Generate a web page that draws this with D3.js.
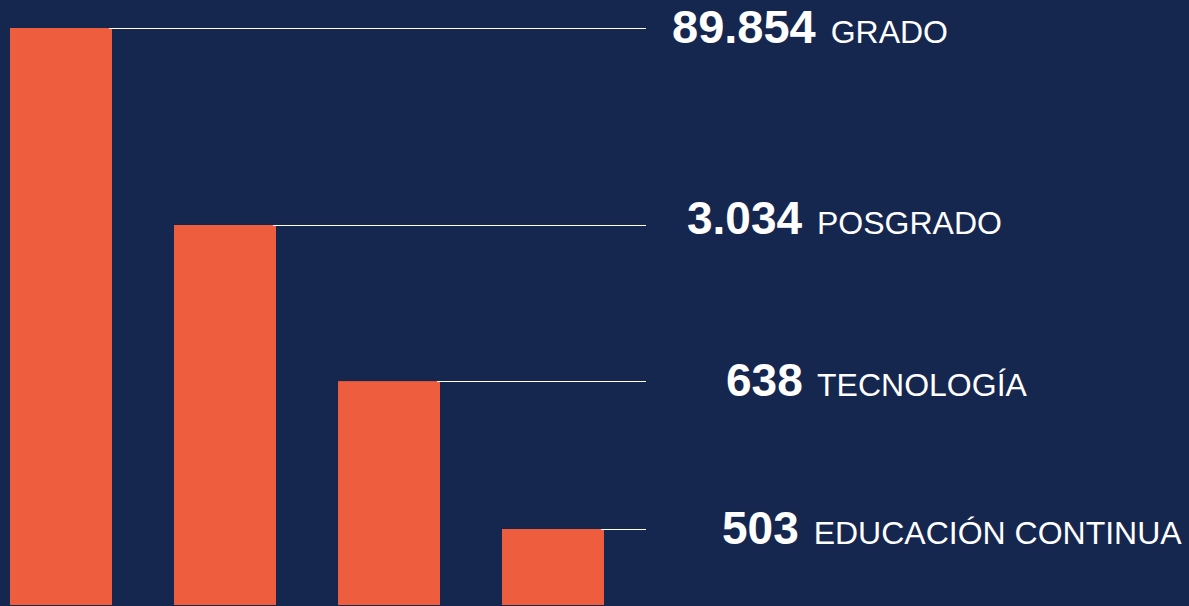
<!DOCTYPE html>
<html lang="es">
<head>
<meta charset="utf-8">
<title>Estudiantes por nivel</title>
<script src="https://cdn.jsdelivr.net/npm/d3@7"></script>
<style>
  html, body { margin: 0; padding: 0; background: #15264f; overflow: hidden; }
  svg { display: block; }
  text { font-family: "Liberation Sans", Arial, Helvetica, sans-serif; fill: #ffffff; }
</style>
</head>
<body>
<svg id="chart"></svg>
<script>
// Students per academic level
const categories = ["GRADO", "POSGRADO", "TECNOLOGÍA", "EDUCACIÓN CONTINUA"];
const values = [89854, 3034, 638, 503];
const valueLabels = ["89.854", "3.034", "638", "503"];

// Layout
const width = 1189, height = 606;
const plotTop = 28, plotBottom = 605;
const leaderEnd = 646;
// horizontal start of each value label, and baseline offset from its leader
const labelStart = [672, 687, 726, 722];
const labelBaseline = [15, 9, 15, 15];

const svg = d3.select("#chart").attr("width", width).attr("height", height);

svg.append("rect")
  .attr("width", width).attr("height", height)
  .attr("fill", "#15264f");

const x = d3.scaleBand()
  .domain(categories)
  .range([10, 604])
  .paddingInner(0.378)
  .paddingOuter(0);

// Compressed (piecewise) height scale so the small levels remain visible
const sorted = values.slice().sort(d3.ascending);
const h = plotBottom - plotTop;
const y = d3.scaleLinear()
  .domain([0, ...sorted])
  .range([plotBottom, plotBottom - h * 0.1317, plotBottom - h * 0.388, plotBottom - h * 0.6586, plotTop]);

const rows = categories.map((c, i) => ({ cat: c, value: values[i], label: valueLabels[i], i }));

svg.append("g").selectAll("rect")
  .data(rows)
  .join("rect")
  .attr("x", d => x(d.cat))
  .attr("y", d => y(d.value))
  .attr("width", x.bandwidth())
  .attr("height", d => plotBottom - y(d.value))
  .attr("fill", "#ee5d3d");

// Leader lines from each bar top toward its label
svg.append("g").selectAll("line")
  .data(rows)
  .join("line")
  .attr("x1", d => x(d.cat) + x.bandwidth() - 3)
  .attr("x2", leaderEnd)
  .attr("y1", d => Math.round(y(d.value)) + 0.5)
  .attr("y2", d => Math.round(y(d.value)) + 0.5)
  .attr("stroke", "#ffffff")
  .attr("stroke-width", 1.2);

const labels = svg.append("g").selectAll("text")
  .data(rows)
  .join("text")
  .attr("x", d => labelStart[d.i])
  .attr("y", d => y(d.value) + labelBaseline[d.i]);

labels.append("tspan")
  .attr("font-weight", "bold")
  .attr("font-size", d => d.i === 0 ? 47 : 46)
  .text(d => d.label);

labels.append("tspan")
  .attr("dx", 6)
  .attr("font-size", 32)
  .text(d => " " + d.cat);
</script>
</body>
</html>
